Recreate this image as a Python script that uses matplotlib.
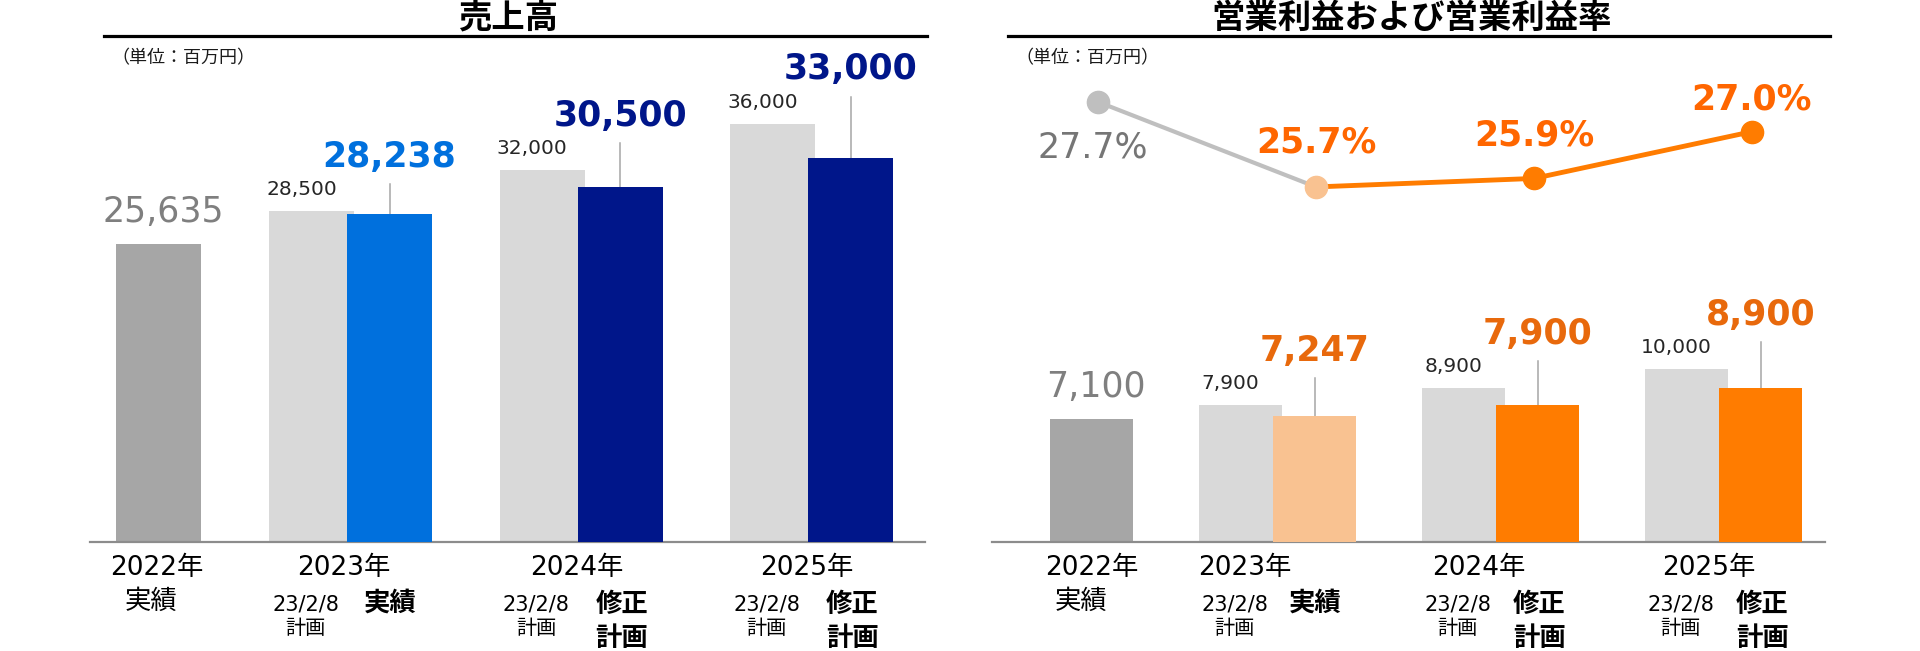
import numpy as np
import matplotlib
matplotlib.use("Agg")
import matplotlib.pyplot as plt
from matplotlib.lines import Line2D

plt.rcParams['font.family'] = ['DejaVu Sans', 'Noto Sans CJK JP']

# ============================================================
# DATA
# ============================================================

years = ["2022年", "2023年", "2024年", "2025年"]

# 売上高 (百万円)
sales_actual_2022 = 25635
sales_plan = [28500, 32000, 36000]          # 23/2/8 計画
sales_main = [28238, 30500, 33000]          # 実績 / 修正計画

# 営業利益 (百万円)
op_actual_2022 = 7100
op_plan = [7900, 8900, 10000]
op_main = [7247, 7900, 8900]

# 営業利益率 (%)
margin = [27.7, 25.7, 25.9, 27.0]

# ============================================================
# STYLE
# ============================================================

W, H = 1920, 651
DPI = 100

GRAY_BAR = "#A6A6A6"
LIGHT_BAR = "#D9D9D9"
BLUE = "#0070DD"
NAVY = "#00168A"
ORANGE = "#FF7C00"
LIGHT_ORANGE = "#F9C291"
ORANGE_TXT = "#E8690C"
PCT_TXT = "#FF6600"
BIG_GRAY_TXT = "#7F7F7F"
SMALL_TXT = "#262626"
LEADER = "#A6A6A6"
BASE = "#8C8C8C"

CJK = ['Noto Sans CJK JP', 'DejaVu Sans']

fig = plt.figure(figsize=(W / DPI, H / DPI), dpi=DPI)


def fx(x):
    return x / W


def fy(y):
    return 1 - y / H


def make_axes(x0, x1, top, bottom, ymax):
    ax = fig.add_axes([fx(x0), fy(bottom), (x1 - x0) / W, (bottom - top) / H])
    ax.set_xlim(x0, x1)
    ax.set_ylim(0, ymax)
    for s in ["top", "right", "left"]:
        ax.spines[s].set_visible(False)
    ax.spines["bottom"].set_color(BASE)
    ax.spines["bottom"].set_linewidth(1.6)
    ax.set_xticks([])
    ax.set_yticks([])
    ax.patch.set_alpha(0)
    return ax


def bar_panel(ax, px_per_unit, first_x, light_x0, step, offset, width,
              actual, plan, main, main_colors, main_txt_colors):
    upp = 1.0 / px_per_unit
    light_x = [light_x0 + i * step for i in range(len(plan))]
    main_x = [x + offset for x in light_x]

    ax.bar(first_x, actual, width=width, color=GRAY_BAR, zorder=2)
    ax.annotate(f"{actual:,}", xy=(first_x, actual), xytext=(5, 22),
                textcoords="offset pixels", ha="center", va="baseline",
                fontsize=25, color=BIG_GRAY_TXT)

    ax.bar(light_x, plan, width=width, color=LIGHT_BAR, zorder=2)
    ax.bar(main_x, main, width=width, color=main_colors, zorder=3)

    for lx, mx, p, m, tc in zip(light_x, main_x, plan, main, main_txt_colors):
        ax.annotate(f"{p:,}", xy=(lx, p), xytext=(-10, 16),
                    textcoords="offset pixels", ha="center", va="baseline",
                    fontsize=14.5, color=SMALL_TXT)
        top = p + 27 * upp
        ax.plot([mx, mx], [m, top], color=LEADER, lw=1.1, zorder=1)
        ax.annotate(f"{m:,}", xy=(mx, p), xytext=(0, 44),
                    textcoords="offset pixels", ha="center", va="baseline",
                    fontsize=25, fontweight="bold", color=tc)
    return light_x, main_x


def title(text, x_center, x0, x1):
    fig.text(fx(x_center), fy(18), text, ha="center", va="center",
             fontsize=24, fontweight="bold", family=CJK)
    fig.add_artist(Line2D([fx(x0), fx(x1)], [fy(36), fy(36)],
                          color="black", lw=2.3))
    fig.text(fx(x0 + 7), fy(58), "（単位：百万円）", ha="left", va="center",
             fontsize=13, family=CJK, color="#1a1a1a")


def x_labels(year_x, first_x, plan_x, main_x):
    for yx, yl in zip(year_x, years):
        fig.text(fx(yx), fy(575), yl, ha="center", va="baseline", fontsize=19)
    fig.text(fx(first_x), fy(601), "実績", ha="center", va="center",
             fontsize=19, family=CJK)
    for i, (px, mx) in enumerate(zip(plan_x, main_x)):
        fig.text(fx(px - 6), fy(610), "23/2/8", ha="center", va="baseline",
                 fontsize=15)
        fig.text(fx(px - 6), fy(629), "計画", ha="center", va="center",
                 fontsize=14.5, family=CJK)
        if i == 0:
            fig.text(fx(mx + 1), fy(603), "実績", ha="center", va="center",
                     fontsize=19, fontweight="bold", family=CJK)
        else:
            fig.text(fx(mx + 2), fy(605), "修正", ha="center", va="center",
                     fontsize=19, fontweight="bold", family=CJK)
            fig.text(fx(mx + 2), fy(639), "計画", ha="center", va="center",
                     fontsize=19, fontweight="bold", family=CJK)


# ============================================================
# LEFT PANEL : 売上高
# ============================================================

left_ppu = 0.011625
ax1 = make_axes(90, 925, 70, 542, 472 / left_ppu)
lx1, mx1 = bar_panel(ax1, left_ppu, 158.5, 311.5, 230.5, 78, 85,
                     sales_actual_2022, sales_plan, sales_main,
                     [BLUE, NAVY, NAVY], [BLUE, NAVY, NAVY])
title("売上高", 508, 104, 927)
x_labels([157, 344, 577, 807], 151, lx1, mx1)

# ============================================================
# RIGHT PANEL : 営業利益および営業利益率
# ============================================================

right_ppu = 0.01732
ax2 = make_axes(992, 1825, 70, 542, 472 / right_ppu)
lx2, mx2 = bar_panel(ax2, right_ppu, 1091, 1240.5, 223, 74, 83,
                     op_actual_2022, op_plan, op_main,
                     [LIGHT_ORANGE, ORANGE, ORANGE],
                     [ORANGE_TXT, ORANGE_TXT, ORANGE_TXT])
title("営業利益および営業利益率", 1412, 1008, 1830)
x_labels([1092, 1245, 1479, 1709], 1081, lx2, mx2)

# margin line
ax3 = fig.add_axes(ax2.get_position())
ax3.set_xlim(992, 1825)
ax3.set_ylim(17.35, 28.45)
ax3.axis("off")
line_x = [1098 + i * 218 for i in range(len(margin))]

ax3.plot(line_x[:2], margin[:2], color="#BFBFBF", lw=3, zorder=4,
         solid_capstyle="round")
ax3.plot(line_x[1:], margin[1:], color=ORANGE, lw=3.5, zorder=4,
         solid_capstyle="round")
marker_colors = ["#BFBFBF", LIGHT_ORANGE, ORANGE, ORANGE]
for x, v, c in zip(line_x, margin, marker_colors):
    ax3.plot(x, v, "o", ms=16, color=c, mec=c, zorder=5)

pct_dy = [-43, 47, 46, 35]
for i, (x, v, dy) in enumerate(zip(line_x, margin, pct_dy)):
    if i == 0:
        ax3.annotate(f"{v:.1f}%", xy=(x, v), xytext=(-5, dy - 12.7),
                     textcoords="offset pixels", ha="center", va="baseline",
                     fontsize=25, color="#767676")
    else:
        ax3.annotate(f"{v:.1f}%", xy=(x, v), xytext=(0, dy - 12.7),
                     textcoords="offset pixels", ha="center", va="baseline",
                     fontsize=25, fontweight="bold", color=PCT_TXT)

fig.savefig("out.png", dpi=DPI)
